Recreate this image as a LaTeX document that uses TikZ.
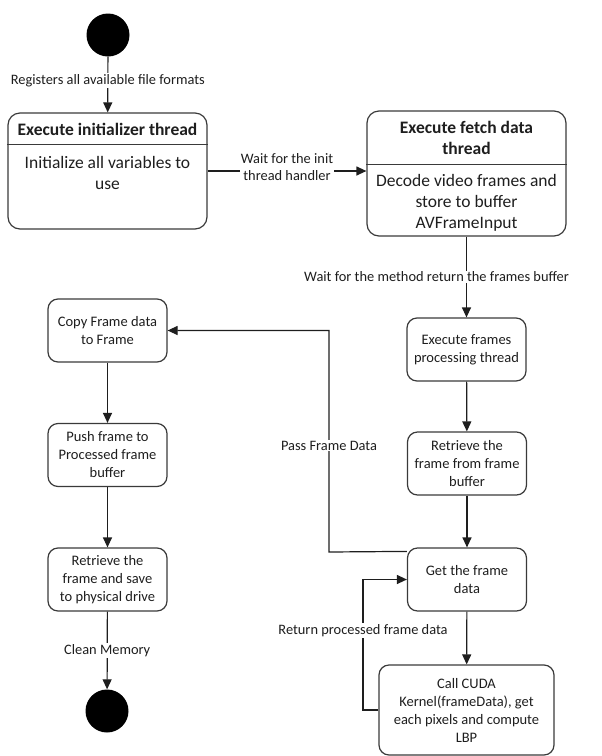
\documentclass[tikz,border=0pt]{standalone}
\usepackage{fontspec}
\setmainfont{Carlito}
\usepackage{tikz}
\usetikzlibrary{arrows.meta}
\definecolor{ink}{HTML}{1E1E1E}
\definecolor{edge}{HTML}{3A3A3A}
\tikzset{
  state/.style={draw=edge, line width=1.2pt, rounded corners=12pt},
  act/.style={draw=edge, line width=1.2pt, rounded corners=10pt, align=center,
    minimum width=119pt, minimum height=63pt, inner sep=2pt, text=ink,
    font=\fontsize{14.5}{18}\selectfont},
  head/.style={text=ink, align=center, font=\fontsize{17.5}{21}\selectfont\bfseries},
  body/.style={text=ink, align=center, font=\fontsize{17.5}{21}\selectfont},
  flow/.style={draw=ink, line width=1.2pt, -{Triangle[length=10pt,width=9pt]}},
  lbl/.style={fill=white, inner sep=1pt, text=ink, align=center,
    font=\fontsize{14.4}{17}\selectfont},
  dot/.style={circle, fill=black, minimum size=43pt, inner sep=0pt},
}

\begin{document}
\begin{tikzpicture}[x=1pt, y=-1pt]
  \useasboundingbox (0,0) rectangle (602,756);
  % start and end
  \node[dot] (start) at (108,35) {};
  \node[dot] (stop) at (107,711) {};
  % thread states
  \node[state, minimum width=199pt, minimum height=116pt] (init) at (107.5,171) {};
  \draw[draw=edge, line width=1.2pt] ([yshift=-32pt]init.north west) -- ([yshift=-32pt]init.north east);
  \node[head] (inithead) at (107.5,129) {Execute initializer thread};
  \node[body] (initbody) at (107.5,173) {Initialize all variables to\\use};
  \node[state, minimum width=199pt, minimum height=125pt] (fetch) at (466.5,173.5) {};
  \draw[draw=edge, line width=1.2pt] ([yshift=-54pt]fetch.north west) -- ([yshift=-54pt]fetch.north east);
  \node[head] (fetchhead) at (466.5,137.5) {Execute fetch data\\thread};
  \node[body] (fetchbody) at (466.5,203) {Decode video frames and\\store to buffer\\AVFrameInput};
  % processing column
  \node[act] (proc) at (466.5,349.5) {Execute frames\\processing thread};
  \node[act] (retr) at (467,463.5) {Retrieve the\\frame from frame\\buffer};
  \node[act] (getf) at (467,579.5) {Get the frame\\data};
  \node[act, minimum width=175pt, minimum height=90pt] (cuda) at (466.5,710)
    {Call CUDA\\Kernel(frameData), get\\each pixels and compute\\LBP};
  % output column
  \node[act] (copy) at (107.5,330.5) {Copy Frame data\\to Frame};
  \node[act] (push) at (107.5,455) {Push frame to\\Processed frame\\buffer};
  \node[act] (save) at (107.5,579.5) {Retrieve the\\frame and save\\to physical drive};
  % turn points
  \coordinate (passlo) at (329,552);
  \coordinate (passhi) at (329,330.5);
  \coordinate (retlo) at (363,710);
  \coordinate (rethi) at (363,579.5);
  % connectors
  \draw[flow] (start) -- node[lbl, pos=0.43] {Registers all available file formats} (init);
  \draw[flow] (init.east) -- node[lbl, yshift=3.5pt] {Wait for the init\\thread handler} (init.east -| fetch.west);
  \draw[flow] (fetch) -- node[lbl, xshift=-30pt] {Wait for the method return the frames buffer} (proc);
  \draw[flow] (proc) -- (retr);
  \draw[flow] (retr) -- (getf);
  \draw[flow] (getf) -- (cuda);
  \draw[flow] ([yshift=-4pt]getf.north west) -- (passlo) -- node[lbl, pos=0.48] {Pass Frame Data} (passhi) -- (copy.east);
  \draw[flow] (cuda.west) -- (retlo) -- node[lbl, pos=0.61] {Return processed frame data} (rethi) -- (getf.west);
  \draw[flow] (copy) -- (push);
  \draw[flow] (push) -- (save);
  \draw[flow] (save) -- node[lbl] {Clean Memory} (stop);
\end{tikzpicture}
\end{document}
